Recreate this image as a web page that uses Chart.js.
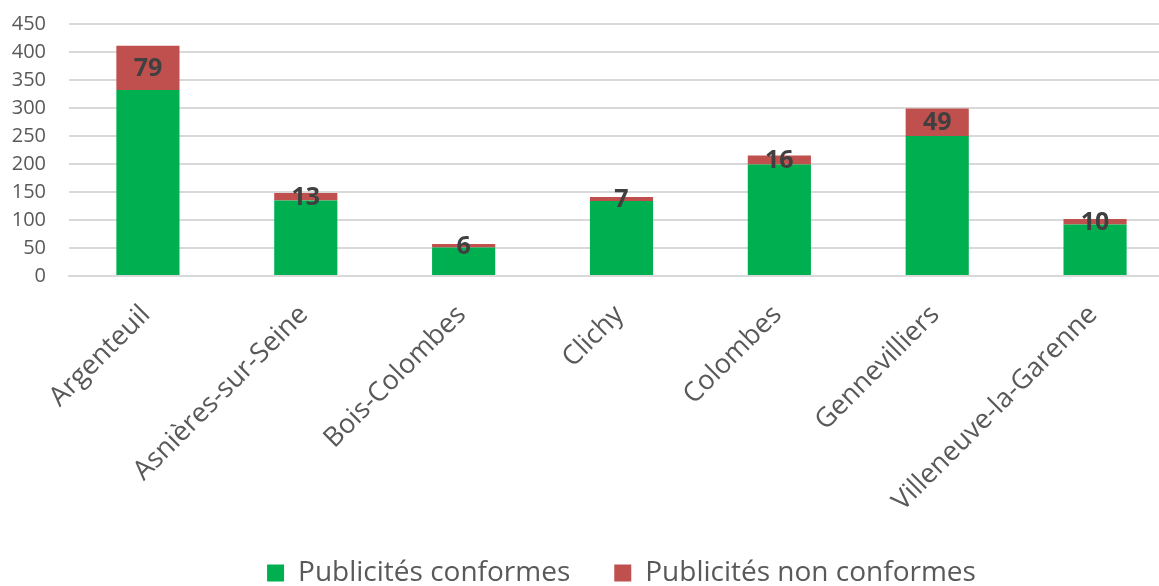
<!DOCTYPE html>
<html>
<head>
<meta charset="utf-8">
<script src="https://cdn.jsdelivr.net/npm/chart.js@4"></script>
<style>
  html, body { margin: 0; padding: 0; background: #fff; overflow: hidden; }
  #wrap { width: 1174px; height: 597px; margin-top: -11px; }
</style>
</head>
<body>
<div id="wrap"><canvas id="chart"></canvas></div>
<script>
const communes = ['Argenteuil', 'Asnières-sur-Seine', 'Bois-Colombes', 'Clichy', 'Colombes', 'Gennevilliers', 'Villeneuve-la-Garenne'];
const conformes = [332, 135, 51, 134, 199, 250, 92];
const nonConformes = [79, 13, 6, 7, 16, 49, 10];
const yTicks = [0, 50, 100, 150, 200, 250, 300, 350, 400, 450];

const FONT = "'Open Sans', sans-serif";

// labels des publicités non conformes, centrées dans le segment rouge
const segmentLabels = {
    id: 'segmentLabels',
    afterDatasetsDraw(chart) {
        const { ctx } = chart;
        const meta = chart.getDatasetMeta(1);
        ctx.save();
        ctx.font = `bold 25px ${FONT}`;
        ctx.fillStyle = '#404040';
        ctx.textAlign = 'center';
        ctx.textBaseline = 'middle';
        meta.data.forEach((bar, i) => {
            ctx.fillText(String(nonConformes[i]), bar.x, (bar.y + bar.base) / 2 + 1);
        });
        ctx.restore();
    }
};

new Chart(document.getElementById('chart'), {
    type: 'bar',
    data: {
        labels: communes,
        datasets: [
            { label: 'Publicités conformes', data: conformes, backgroundColor: '#00B050', borderWidth: 0 },
            { label: 'Publicités non conformes', data: nonConformes, backgroundColor: '#C0504D', borderWidth: 0 }
        ]
    },
    options: {
        responsive: true,
        maintainAspectRatio: false,
        animation: false,
        barPercentage: 0.4,
        categoryPercentage: 1.0,
        layout: { padding: { top: 0, left: 0, right: 0, bottom: -11 } },
        plugins: {
            tooltip: { enabled: false },
            legend: {
                position: 'bottom',
                fullSize: false,
                labels: {
                    font: { family: FONT, size: 28 },
                    color: '#595959',
                    boxWidth: 17,
                    boxHeight: 17,
                    padding: 44
                }
            }
        },
        scales: {
            x: {
                stacked: true,
                grid: { display: false },
                border: { color: '#d9d9d9', width: 2 },
                ticks: {
                    font: { family: FONT, size: 27 },
                    color: '#595959',
                    maxRotation: 45,
                    minRotation: 45,
                    padding: 15,
                    labelOffset: -2
                },
                afterFit: (scale) => { scale.height = 239; }
            },
            y: {
                stacked: true,
                min: 0,
                max: 450,
                afterBuildTicks: (scale) => { scale.ticks = yTicks.map(v => ({ value: v })); },
                grid: { color: '#d9d9d9', lineWidth: 2, drawTicks: false },
                border: { display: false },
                ticks: {
                    autoSkip: false,
                    font: { family: FONT, size: 20 },
                    color: '#595959',
                    padding: 23
                },
                afterFit: (scale) => { scale.width = 69; }
            }
        }
    },
    plugins: [segmentLabels]
});
</script>
</body>
</html>
